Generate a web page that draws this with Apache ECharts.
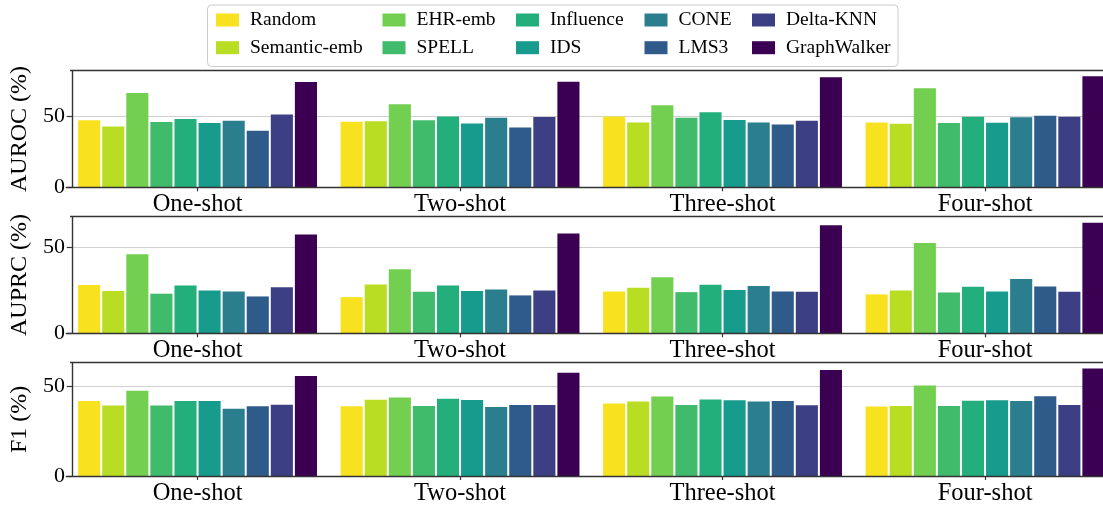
<!DOCTYPE html>
<html><head><meta charset="utf-8">
<script src="https://cdn.jsdelivr.net/npm/echarts@6/dist/echarts.min.js"></script>
<style>html,body{margin:0;padding:0;overflow:hidden;background:#fff;width:1103px;height:506px}#c{width:1120px;height:506px}</style>
</head><body><div id="c"></div><script>
const categories = ['One-shot', 'Two-shot', 'Three-shot', 'Four-shot'];
const methods = ['Random', 'Semantic-emb', 'EHR-emb', 'SPELL', 'Influence', 'IDS', 'CONE', 'LMS3', 'Delta-KNN', 'GraphWalker'];
const colors = ['#f8e11f', '#b8dd22', '#72cf4f', '#40ba6b', '#22af7b', '#169b8d', '#2a7e8e', '#2f5b8b', '#3c3f83', '#3b0051'];
const metricNames = ['AUROC (%)', 'AUPRC (%)', 'F1 (%)'];
const yMax = [82.2, 67.7, 63.2];
const yTickStep = 50;

// values per shot setting, in method order
const aurocOne   = [47.2, 42.9, 66.5, 46.0, 48.1, 45.3, 46.9, 39.9, 51.4, 74.3];
const aurocTwo   = [46.2, 46.5, 58.6, 47.2, 50.0, 45.0, 49.1, 42.2, 49.6, 74.4];
const aurocThree = [50.0, 45.7, 57.8, 49.1, 52.9, 47.4, 45.7, 44.3, 46.9, 77.6];
const aurocFour  = [45.7, 44.8, 69.9, 45.3, 49.8, 45.5, 49.3, 50.5, 49.8, 78.3];

const auprcOne   = [28.0, 24.5, 45.9, 23.0, 27.8, 24.9, 24.3, 21.4, 26.7, 57.4];
const auprcTwo   = [21.0, 28.4, 37.2, 24.1, 27.8, 24.5, 25.5, 22.0, 24.9, 58.0];
const auprcThree = [24.3, 26.5, 32.5, 23.9, 28.2, 25.1, 27.4, 24.3, 24.1, 62.8];
const auprcFour  = [22.6, 24.9, 52.5, 23.7, 27.0, 24.3, 31.5, 27.2, 24.1, 64.2];

const f1One   = [41.8, 39.3, 47.6, 39.3, 41.8, 41.8, 37.5, 38.9, 39.8, 55.8];
const f1Two   = [38.9, 42.5, 43.8, 39.1, 43.1, 42.4, 38.5, 39.6, 39.6, 57.6];
const f1Three = [40.4, 41.5, 44.4, 39.6, 42.7, 42.2, 41.5, 41.8, 39.5, 59.1];
const f1Four  = [38.7, 39.1, 50.5, 39.1, 42.0, 42.2, 41.8, 44.5, 39.6, 60.0];

const metrics = [
  [aurocOne, aurocTwo, aurocThree, aurocFour],
  [auprcOne, auprcTwo, auprcThree, auprcFour],
  [f1One, f1Two, f1Three, f1Four]
];

const FONT = 'Liberation Serif';
const SPINE = '#333333';
const gridTops = [70.7, 216.7, 362.7];
const gridH = 116.6;
const gridLeft = 65.1;
const bandW = 262.8;

const grid = gridTops.map(t => ({left: gridLeft, top: t, width: bandW * 4, height: gridH}));
const xAxis = [];
gridTops.forEach((t, k) => {
  xAxis.push({
    gridIndex: k, type: 'category', data: categories, position: 'bottom', z: 5,
    axisLine: {lineStyle: {color: SPINE, width: 1.4}},
    axisTick: {show: true, alignWithLabel: true, length: 4, lineStyle: {color: SPINE, width: 1.2}},
    axisLabel: {margin: 5, fontFamily: FONT, fontSize: 24.5, color: '#000'}
  });
});
gridTops.forEach((t, k) => {
  xAxis.push({
    gridIndex: k, type: 'category', data: categories, position: 'top', z: 5,
    axisLine: {lineStyle: {color: SPINE, width: 1.4}},
    axisTick: {show: false}, axisLabel: {show: false}
  });
});
const yAxis = gridTops.map((t, k) => ({
  gridIndex: k, type: 'value', min: 0, max: yMax[k], interval: yTickStep, offset: -5.6,
  name: metricNames[k], nameLocation: 'middle', nameGap: 31,
  nameTextStyle: {fontFamily: FONT, fontSize: 24, color: '#000'},
  axisLine: {show: true, lineStyle: {color: SPINE, width: 1.4}},
  axisTick: {show: true, length: 5, lineStyle: {color: SPINE, width: 1.2}},
  axisLabel: {showMaxLabel: false, margin: 7, fontFamily: FONT, fontSize: 22, color: '#000'},
  splitLine: {show: true, lineStyle: {color: '#d0d0d0', width: 1}}
}));

const series = [];
metrics.forEach((shots, k) => {
  methods.forEach((m, i) => {
    series.push({
      name: m, type: 'bar', xAxisIndex: k, yAxisIndex: k,
      data: shots.map(s => s[i]),
      itemStyle: {color: colors[i]},
      barGap: '9%', barCategoryGap: '9%'
    });
  });
});

const colLefts = [216, 382.5, 516, 644.5, 752];
const rowCenters = [20, 47.7];
const legend = [];
methods.forEach((m, j) => {
  const col = Math.floor(j / 2), row = j % 2;
  legend.push({
    data: [m], left: colLefts[col], top: rowCenters[row] - 10, padding: 0,
    icon: 'rect', itemWidth: 23, itemHeight: 13,
    textStyle: {fontFamily: FONT, fontSize: 19.5, color: '#000', lineHeight: 20, padding: [0, 0, 0, 6]}
  });
});

const graphic = [
  {type: 'rect', z: -1, shape: {x: 207.5, y: 5, width: 690.5, height: 61.5, r: 4},
   style: {fill: '#fff', stroke: '#cccccc', lineWidth: 1}}
].concat(gridTops.map(t => ({
  type: 'rect', z: 100, shape: {x: 56, y: t - 2, width: 14, height: 3.3}, style: {fill: '#fff'}
})));

const chart = echarts.init(document.getElementById('c'), null, {renderer: 'canvas'});
chart.setOption({animation: false, backgroundColor: '#fff', grid, xAxis, yAxis, series, legend, graphic});
</script></body></html>
